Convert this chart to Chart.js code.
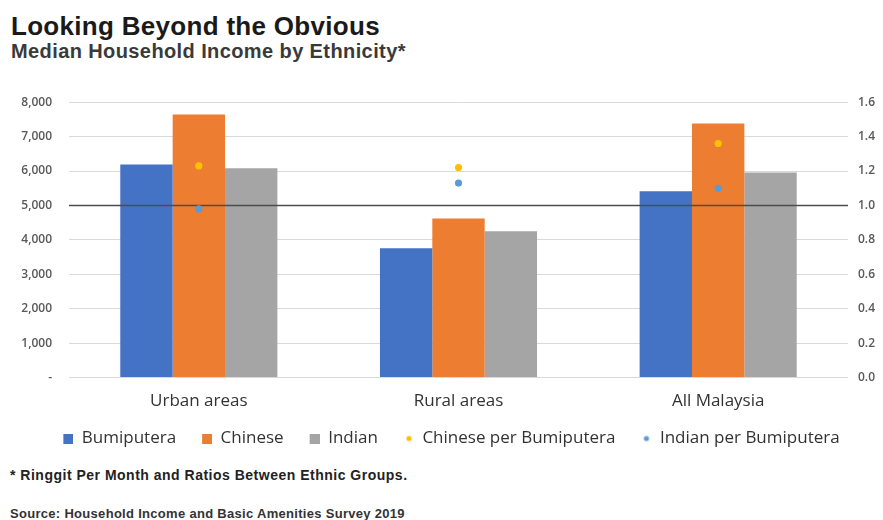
<!DOCTYPE html>
<html>
<head>
<meta charset="utf-8">
<script src="https://cdn.jsdelivr.net/npm/chart.js@4"></script>
<style>
  body { margin: 0; background: #fff; width: 883px; height: 520px; position: relative; overflow: hidden; font-family: "Liberation Sans", Arial, sans-serif; }
  .title { position: absolute; left: 11px; top: 11px; font-size: 26px; font-weight: bold; color: #1a1a1a; letter-spacing: 0.3px; line-height: 30px; }
  .subtitle { position: absolute; left: 11px; top: 40px; font-size: 20px; font-weight: bold; color: #3a3a3a; letter-spacing: 0.4px; line-height: 23px; }
  .note { position: absolute; left: 10px; font-weight: bold; color: #222; font-size: 14px; letter-spacing: 0.5px; line-height: 16px; }
  #wrap { position: absolute; left: 0; top: 78px; width: 883px; height: 379px; }
</style>
</head>
<body>
<div class="title">Looking Beyond the Obvious</div>
<div class="subtitle">Median Household Income by Ethnicity*</div>
<div id="wrap"><canvas id="chart"></canvas></div>
<div class="note" style="top:467px">* Ringgit Per Month and Ratios Between Ethnic Groups.</div>
<div class="note" style="top:506px; font-size:13px; letter-spacing:0.3px; color:#333">Source: Household Income and Basic Amenities Survey 2019</div>

<script>
/* ---------- Dados ---------- */
const categories = ['Urban areas', 'Rural areas', 'All Malaysia'];
const bumiputera = [6190, 3760, 5410];
const chinese = [7640, 4620, 7380];
const indian = [6080, 4250, 5960];
const chinesePerBumi = [1.23, 1.22, 1.36];
const indianPerBumi = [0.98, 1.13, 1.10];

const colors = {
    bumi: '#4472C4',
    chinese: '#ED7D31',
    indian: '#A5A5A5',
    chRatio: '#FFC000',
    inRatio: '#5B9BD5'
};

// swatch da legenda: 30px de largura, marca nos 10px da direita
function swatch(color, shape) {
    const c = document.createElement('canvas');
    c.width = 30; c.height = 10;
    const g = c.getContext('2d');
    g.fillStyle = color;
    if (shape === 'dot') {
        g.beginPath();
        g.arc(25, 5, 2.6, 0, Math.PI * 2);
        g.fill();
    } else {
        g.fillRect(20, 0, 10, 10);
    }
    return c;
}

// linha de paridade (1.0) desenhada sobre as barras, abaixo dos pontos
const parityLine = {
    id: 'parityLine',
    afterDatasetDraw(chart, args) {
        if (args.index !== 0) return;
        const y = chart.scales.y1.getPixelForValue(1.0);
        const { left, right } = chart.chartArea;
        const ctx = chart.ctx;
        ctx.save();
        ctx.strokeStyle = '#4d4d4d';
        ctx.lineWidth = 1.5;
        ctx.beginPath();
        ctx.moveTo(left, y);
        ctx.lineTo(right, y);
        ctx.stroke();
        ctx.restore();
    }
};

const barOpts = { barPercentage: 1, categoryPercentage: 0.605, order: 1, yAxisID: 'y' };
const dotOpts = { type: 'line', showLine: false, pointRadius: 3.6, pointHoverRadius: 3.6, borderWidth: 0, order: 0, yAxisID: 'y1' };

new Chart(document.getElementById('chart').getContext('2d'), {
    type: 'bar',
    data: {
        labels: categories,
        datasets: [
            { label: 'Bumiputera', data: bumiputera, backgroundColor: colors.bumi, ...barOpts },
            { label: 'Chinese', data: chinese, backgroundColor: colors.chinese, ...barOpts },
            { label: 'Indian', data: indian, backgroundColor: colors.indian, ...barOpts },
            { label: 'Chinese per Bumiputera', data: chinesePerBumi, backgroundColor: colors.chRatio, borderColor: colors.chRatio, ...dotOpts },
            { label: 'Indian per Bumiputera', data: indianPerBumi, backgroundColor: colors.inRatio, borderColor: colors.inRatio, ...dotOpts }
        ]
    },
    options: {
        responsive: true,
        maintainAspectRatio: false,
        animation: false,
        layout: { padding: { top: 4, bottom: 0 } },
        plugins: {
            tooltip: { enabled: false },
            legend: {
                position: 'bottom',
                labels: {
                    usePointStyle: true,
                    pointStyleWidth: 30,
                    boxHeight: 10,
                    padding: 6,
                    color: '#333',
                    font: { family: 'Open Sans', size: 17 },
                    generateLabels(chart) {
                        return chart.data.datasets.map((ds, i) => ({
                            text: ds.label,
                            datasetIndex: i,
                            fontColor: '#333',
                            pointStyle: swatch(ds.backgroundColor, i > 2 ? 'dot' : 'rect'),
                            hidden: false,
                            lineWidth: 0
                        }));
                    }
                }
            }
        },
        scales: {
            x: {
                grid: { display: false, drawTicks: false },
                border: { display: false },
                ticks: { color: '#333', padding: 13, font: { family: 'Open Sans', size: 17 } }
            },
            y: {
                position: 'left',
                min: 0, max: 8000,
                grid: { color: '#d9d9d9', drawTicks: false },
                border: { display: false },
                afterFit(scale) { scale.width = 69; },
                ticks: {
                    stepSize: 1000,
                    padding: 17,
                    color: '#595959',
                    font: { family: 'Open Sans', size: 12, weight: '600' },
                    callback: v => v === 0 ? '-' : v.toLocaleString('en-US')
                }
            },
            y1: {
                position: 'right',
                min: 0, max: 1.6,
                grid: { display: false, drawTicks: false },
                border: { display: false },
                afterFit(scale) { scale.width = 35; },
                ticks: {
                    stepSize: 0.2,
                    padding: 10,
                    color: '#595959',
                    font: { family: 'Open Sans', size: 12, weight: '600' },
                    callback: v => v.toFixed(1)
                }
            }
        }
    },
    plugins: [parityLine]
});
</script>
</body>
</html>
